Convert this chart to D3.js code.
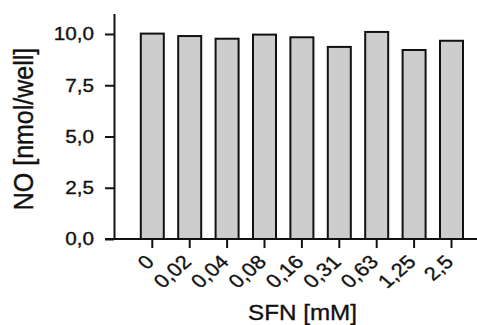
<!DOCTYPE html>
<html>
<head>
<meta charset="utf-8">
<script src="https://cdn.jsdelivr.net/npm/d3@7"></script>
<style>
  body { margin: 0; background: #fff; }
  svg { display: block; font-family: "Liberation Sans", Arial, sans-serif; }
  text { stroke: #111; stroke-width: 0.35px; }
</style>
</head>
<body>
<svg id="chart" width="477" height="325"></svg>
<script>
// SFN concentrations (mM) and NO output (nmol/well)
var doses = ['0', '0,02', '0,04', '0,08', '0,16', '0,31', '0,63', '1,25', '2,5'];
var noValues = [10.02, 9.9, 9.77, 9.97, 9.84, 9.37, 10.1, 9.22, 9.67];
var yTicks = [0, 2.5, 5, 7.5, 10];

function drawChart() {
    var svg = d3.select('#chart');
    var ink = '#111';
    var stretch = 1.15; // the scan is a bit wider than tall

    var y = d3.scaleLinear().domain([0, 11]).range([239, 13.5]);
    var x = d3.scaleBand()
        .domain(doses)
        .range([133.6, 470.2])
        .paddingInner(0.385)
        .paddingOuter(0.1925);

    var fmt = function (d) { return d3.format('.1f')(d).replace('.', ','); };

    // bars
    svg.append('g').selectAll('rect')
        .data(noValues)
        .join('rect')
        .attr('x', function (d, i) { return x(doses[i]); })
        .attr('y', function (d) { return y(d); })
        .attr('width', x.bandwidth())
        .attr('height', function (d) { return y(0) - y(d); })
        .attr('fill', '#cdcdcd')
        .attr('stroke', ink)
        .attr('stroke-width', 2);

    // y axis
    var yAxis = svg.append('g')
        .attr('transform', 'translate(114,0)')
        .call(d3.axisLeft(y).tickValues(yTicks).tickFormat(fmt).tickSize(9).tickSizeOuter(0).tickPadding(8.4));
    yAxis.select('.domain').attr('stroke', ink).attr('stroke-width', 2);
    yAxis.selectAll('.tick line').attr('stroke', ink).attr('stroke-width', 2);
    yAxis.selectAll('.tick text')
        .attr('font-size', 18)
        .attr('fill', ink)
        .attr('font-family', null)
        .attr('transform', 'scale(' + stretch + ',1)');

    // x axis
    var xAxis = svg.append('g')
        .attr('transform', 'translate(0,239)')
        .call(d3.axisBottom(x).tickSize(9).tickSizeOuter(0));
    xAxis.select('.domain').remove();
    xAxis.selectAll('.tick line').attr('stroke', ink).attr('stroke-width', 2);
    xAxis.selectAll('.tick text')
        .attr('font-size', 19)
        .attr('fill', ink)
        .attr('font-family', null)
        .attr('x', 0).attr('y', 0).attr('dy', null)
        .attr('text-anchor', 'end')
        .attr('transform', 'translate(3,24) scale(' + stretch + ',1) rotate(-45)');

    svg.append('line')
        .attr('x1', 105).attr('x2', 477)
        .attr('y1', 239).attr('y2', 239)
        .attr('stroke', ink)
        .attr('stroke-width', 2);

    // axis titles
    svg.append('text')
        .text('NO [nmol/well]')
        .attr('text-anchor', 'middle')
        .attr('font-size', 25)
        .attr('fill', ink)
        .attr('transform', 'translate(32.5,129) scale(1.08,1) rotate(-90)');

    svg.append('text')
        .text('SFN [mM]')
        .attr('text-anchor', 'middle')
        .attr('font-size', 22)
        .attr('fill', ink)
        .attr('transform', 'translate(302.5,319.5) scale(1.1,1)');
}

drawChart();
</script>
</body>
</html>
